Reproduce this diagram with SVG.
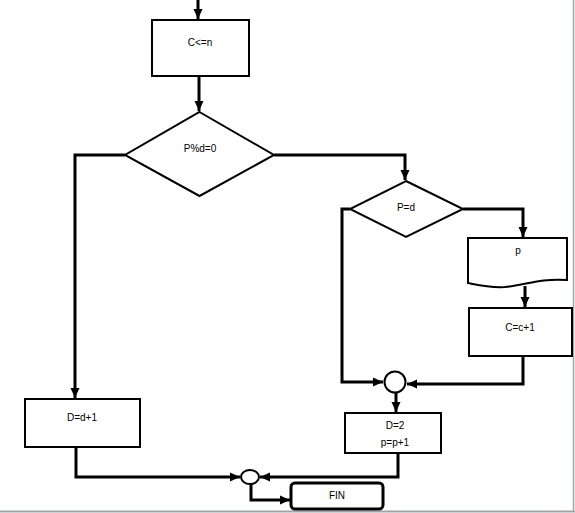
<svg xmlns="http://www.w3.org/2000/svg" width="575" height="513" viewBox="0 0 575 513">
<style>
.box{fill:#fff;stroke:#000;stroke-width:2}
.con{fill:none;stroke:#000;stroke-width:3;stroke-linejoin:miter}
.t{font-family:"Liberation Sans",Arial,sans-serif;font-size:10px;fill:#000;text-anchor:middle}
</style>
<defs>
<marker id="ah" markerUnits="userSpaceOnUse" markerWidth="10" markerHeight="10" viewBox="0 0 10 10" refX="10" refY="5" orient="auto">
<path d="M0,0.5 L10,5 L0,9.5 Z" fill="#000"/>
</marker>
</defs>
<rect x="0" y="0" width="575" height="513" fill="#fff"/>
<line x1="573.5" y1="0" x2="573.5" y2="512" stroke="#a0a4a8" stroke-width="1.5"/>
<line x1="0" y1="511.5" x2="575" y2="511.5" stroke="#a0a4a8" stroke-width="2"/>
<g id="connectors">
<path class="con" d="M198,0 V19" marker-end="url(#ah)"/>
<path class="con" d="M199,77 V111" marker-end="url(#ah)"/>
<path class="con" d="M125,155 H75 V398" marker-end="url(#ah)"/>
<path class="con" d="M274,155 H405 V180" marker-end="url(#ah)"/>
<path class="con" d="M463,209 H523 V237" marker-end="url(#ah)"/>
<path class="con" d="M525,286 V307" marker-end="url(#ah)"/>
<path class="con" d="M523,356 V384 H407" marker-end="url(#ah)"/>
<path class="con" d="M350,209 H342 V382 H383" marker-end="url(#ah)"/>
<path class="con" d="M396,393 V412" marker-end="url(#ah)"/>
<path class="con" d="M398,453 V477 H260" marker-end="url(#ah)"/>
<path class="con" d="M76,447 V477 H240" marker-end="url(#ah)"/>
<path class="con" d="M251,484 V500 H290" marker-end="url(#ah)"/>
</g>
<g id="n_cond_c"><rect class="box" x="152" y="20" width="97" height="56"/><text class="t" x="200" y="46">C&lt;=n</text></g>
<g id="n_pmod"><polygon class="box" points="199.5,112 274,155 199.5,196 125,155"/><text class="t" x="200" y="152">P%d=0</text></g>
<g id="n_peqd"><polygon class="box" points="406,181 463,209 406,237 350,209"/><text class="t" x="406" y="211">P=d</text></g>
<g id="n_print"><path class="box" d="M468,238 H567 V280 C540,278 525,285 505,287 C490,288 478,285 468,283 Z"/><text class="t" x="518" y="254">p</text></g>
<g id="n_cinc"><rect class="box" x="469" y="308" width="103" height="48"/><text class="t" x="520" y="331">C=c+1</text></g>
<g id="n_join1"><circle class="box" cx="395" cy="382" r="10.5"/></g>
<g id="n_dinc"><rect class="box" x="25" y="399" width="115" height="48"/><text class="t" x="82" y="421">D=d+1</text></g>
<g id="n_reset"><rect class="box" x="345" y="413" width="96" height="40"/><text class="t" x="395" y="429">D=2</text><text class="t" x="395" y="446">p=p+1</text></g>
<g id="n_join2"><ellipse class="box" cx="250" cy="477" rx="9" ry="7"/></g>
<g id="n_fin"><rect x="291" y="483" width="92" height="26" rx="4" fill="#fff" stroke="#000" stroke-width="3"/><text class="t" x="337" y="499">FIN</text></g>
</svg>
